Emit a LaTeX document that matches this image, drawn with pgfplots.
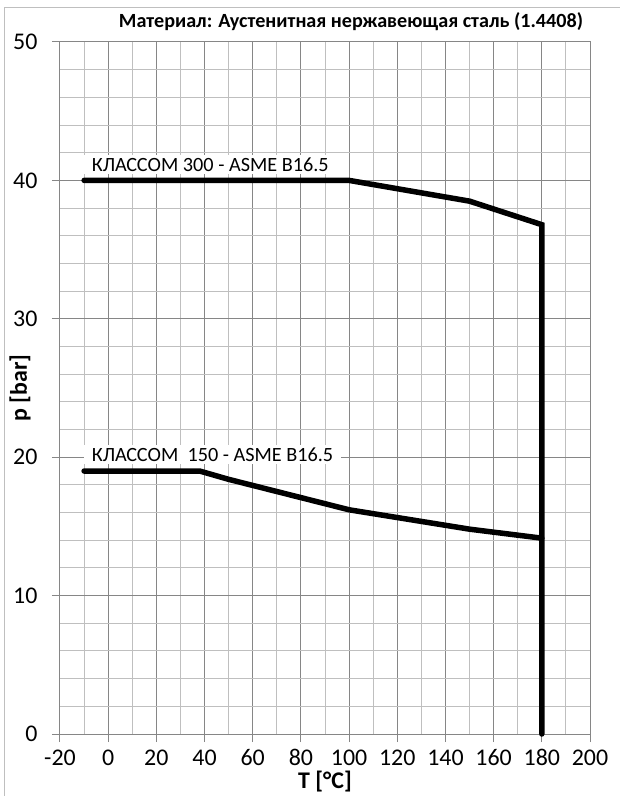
\documentclass[border=0pt]{standalone}
\usepackage{pgfplots}
\pgfplotsset{compat=1.18}
\usepackage{fontspec}
\setmainfont{Carlito}
\definecolor{gmaj}{RGB}{134,134,134}
\definecolor{gmin}{RGB}{191,191,191}
\begin{document}
\begin{tikzpicture}
\begin{axis}[
  at={(0,0)}, anchor=south west,
  scale only axis, width=530bp, height=692bp,
  xmin=-20, xmax=200, ymin=0, ymax=50,
  xtick={-20,0,...,200}, ytick={0,10,...,50},
  minor x tick num=1, minor y tick num=4,
  grid=both,
  major grid style={draw=gmaj, line width=1bp},
  minor grid style={draw=gmin, line width=1bp},
  axis line style={draw=gmaj, line width=1bp},
  tick style={draw=gmaj, line width=1bp},
  major tick length=8bp, minor tick length=0pt,
  tick align=outside, tick pos=left,
  /pgf/number format/assume math mode=true,
  ticklabel style={font=\fontsize{24}{28}\selectfont},
  xticklabel style={yshift=-4bp},
  yticklabel style={xshift=-11bp},
  every axis x label/.style={at={(rel axis cs:0.5,0)}, yshift=-48bp, anchor=center},
  every axis y label/.style={at={(rel axis cs:0,0.5)}, xshift=-40bp, rotate=90, anchor=center},
  xlabel={\bfseries\fontsize{24}{28}\selectfont T [°C]},
  ylabel={\bfseries\fontsize{24}{28}\selectfont p [bar]},
  clip=false,
]
\addplot[black, line width=5.5bp, line cap=round, line join=miter] coordinates {
  (-10,40) (100,40) (150,38.5) (180,36.8) (180,0)
};
\addplot[black, line width=5.5bp, line cap=round, line join=round] coordinates {
  (-10,19) (38,19) (50,18.4) (100,16.2) (150,14.8) (180,14.15)
};
\node[fill=white, inner xsep=8bp, inner ysep=3bp, anchor=west, font=\fontsize{20.3}{24}\selectfont] at (axis cs:-10.2,41.15) {КЛАССОМ 300 - ASME B16.5};
\node[fill=white, inner xsep=8bp, inner ysep=3bp, anchor=west, font=\fontsize{20.3}{24}\selectfont] at (axis cs:-10.2,20.2) {КЛАССОМ\ \ 150 - ASME B16.5};
\node[font=\bfseries\fontsize{20.2}{24}\selectfont] at (rel axis cs:0.549,1.029) {Материал: Аустенитная нержавеющая сталь (1.4408)};
\end{axis}
\draw[gmin, line width=1bp] (-55bp,-62bp) -- (-55bp,726bp) -- (560bp,726bp);
\pgfresetboundingbox
\path[use as bounding box] (-60bp,-62bp) rectangle (560bp,734bp);
\end{tikzpicture}
\end{document}
